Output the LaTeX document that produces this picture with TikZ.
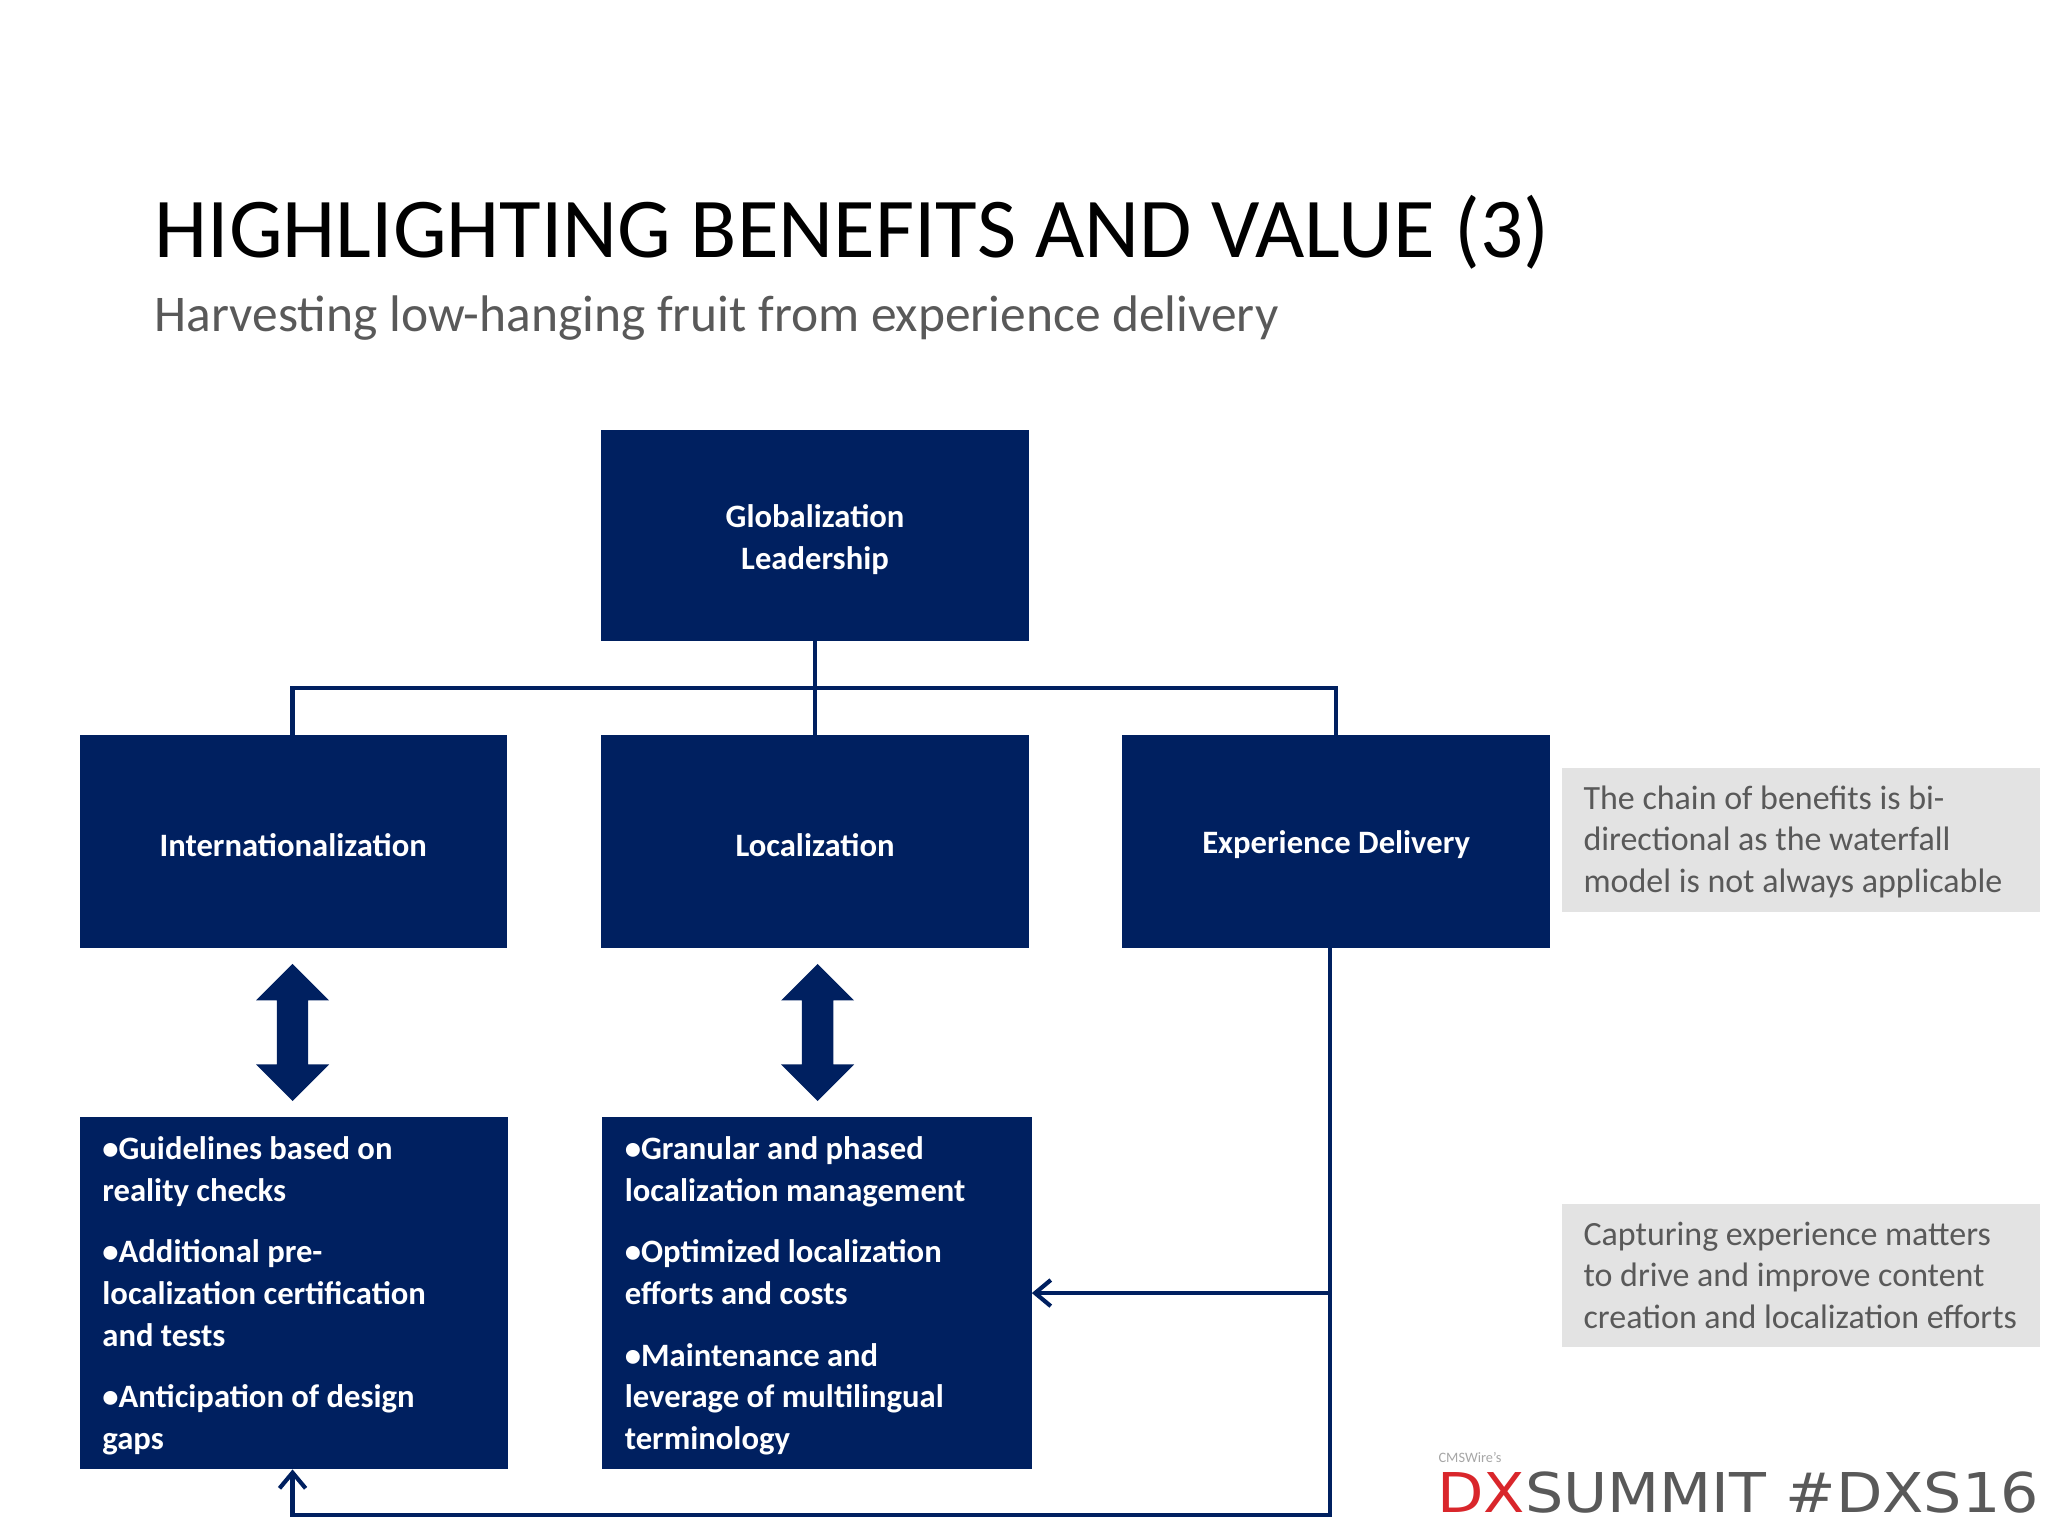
\documentclass[tikz,border=0pt]{standalone}
\usepackage{fontspec}
\setmainfont{Carlito}
\newfontfamily\logofont{DejaVu Sans}
\usetikzlibrary{arrows.meta}
\definecolor{navy}{HTML}{002060}
\definecolor{sidegray}{HTML}{E3E3E3}
\definecolor{tgray}{HTML}{595959}
\definecolor{dxred}{HTML}{D9262B}
\tikzset{
  box/.style={fill=navy,draw=none,text=white,font=\bfseries\fontsize{12.5}{16}\selectfont,align=center,inner sep=0},
  side/.style={fill=sidegray,draw=none,text=tgray,font=\fontsize{13}{16}\selectfont,align=left,inner sep=0},
  conn/.style={draw=navy,line width=1.6pt},
  blockarrow/.style={fill=navy,draw=none}
}
\begin{document}
\begin{tikzpicture}[x=0.5pt,y=-0.5pt]
\useasboundingbox (0,0) rectangle (1568,1176);
\node[anchor=base west,font=\fontsize{32.6}{38}\selectfont,text=black,inner sep=0] (title) at (118,197) {HIGHLIGHTING BENEFITS AND VALUE (3)};
\node[anchor=base west,font=\fontsize{19.7}{22}\selectfont,text=tgray,inner sep=0] (sub) at (118,254) {Harvesting low-hanging fruit from experience delivery};
% boxes
\path[fill=navy] (460,329) rectangle (788,491);
\node[box] (glob) at (624,413) {Globalization\\Leadership};
\path[fill=navy] (61,563) rectangle (388,726);
\node[box] (intl) at (224.5,647) {Internationalization};
\path[fill=navy] (460,563) rectangle (788,726);
\node[box] (loc) at (624,647) {Localization};
\path[fill=navy] (859,563) rectangle (1187,726);
\node[box] (exp) at (1023,647) {Experience Delivery};
\path[fill=navy] (61,855) rectangle (389,1125);
\path[fill=navy] (461,855) rectangle (790,1125);
\coordinate (bl) at (224,1125);
\coordinate (bmr) at (790,990);
\node[box,anchor=north west,align=left] (bltext) at (78,870) {•Guidelines based on\\reality checks\\[7.5pt]•Additional pre-\\localization certification\\and tests\\[7.5pt]•Anticipation of design\\gaps};
\node[box,anchor=north west,align=left] (bmtext) at (478,870) {•Granular and phased\\localization management\\[7.5pt]•Optimized localization\\efforts and costs\\[7.5pt]•Maintenance and\\leverage of multilingual\\terminology};
% side boxes
\path[fill=sidegray] (1196,588) rectangle (1562,698);
\node[side,anchor=north west] (s1) at (1212,601) {The chain of benefits is bi-\\directional as the waterfall\\model is not always applicable};
\path[fill=sidegray] (1196,922) rectangle (1562,1031);
\node[side,anchor=north west] (s2) at (1212,935) {Capturing experience matters\\to drive and improve content\\creation and localization efforts};
% tree connectors
\coordinate (gb) at (624,491);
\draw[conn] (gb) -- (624,563);
\draw[conn] (224,563) -- (224,527) -- (1023,527) -- (1023,563);
% block arrows
\foreach \cx in {224,626}{
  \path[blockarrow] (\cx,738) -- (\cx+28,766) -- (\cx+12,766) -- (\cx+12,815) -- (\cx+28,815) -- (\cx,843) -- (\cx-28,815) -- (\cx-12,815) -- (\cx-12,766) -- (\cx-28,766) -- cycle;
}
% feedback
\coordinate (eb) at (1018,726);
\draw[conn,-{Straight Barb[length=6pt,width=10pt]}] (eb) -- (1018,1160) -- (224,1160) -- (bl);
\draw[conn,-{Straight Barb[length=6pt,width=10pt]}] (1018,990) -- (bmr);
% logo
\node[anchor=base west,font=\fontsize{5.5}{6}\selectfont,text=gray!70,inner sep=0] (cms) at (1101,1120) {CMSWire's};
\node[anchor=base west,font=\logofont\fontsize{21}{24}\selectfont,inner sep=0,xscale=1.1] (logo) at (1100,1158) {\textcolor{dxred}{DX}\textcolor{tgray}{SUMMIT \#DXS16}};
\end{tikzpicture}
\end{document}
